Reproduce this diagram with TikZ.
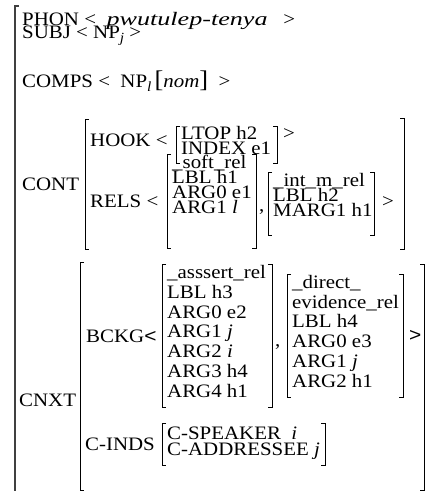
\documentclass[tikz,border=0pt]{standalone}
\usepackage{fontspec}
\setmainfont[FakeStretch=1.1]{Liberation Serif}
\setsansfont[FakeStretch=1.1]{Liberation Sans}
\newcommand{\tk}{4}
\newcommand{\lbrk}[3]{\draw[brk] (#1+\tk,#2) -- (#1,#2) -- (#1,#3) -- (#1+\tk,#3);}
\newcommand{\rbrk}[3]{\draw[brk] (#1-\tk,#2) -- (#1,#2) -- (#1,#3) -- (#1-\tk,#3);}
\newcommand{\lowsub}[1]{\raisebox{-4.5pt}{\fontsize{14}{14}\selectfont\textit{#1}}}
\newcommand{\tallbr}[1]{{\fontsize{24}{24}\selectfont #1}}

\begin{document}
\begin{tikzpicture}[x=1pt,y=-1pt,
    txt/.style={anchor=base west, inner sep=0pt, font=\fontsize{19}{19}\selectfont},
    brk/.style={line width=0.7pt},
    outer/.style={line width=1.3pt, black!75}]

	\useasboundingbox (0,0) rectangle (427,491);

	% outer matrix
	\draw[outer] (19,6) -- (15,6) -- (15,491);

	% phon, subj, comps
	\node[txt] (phon) at (22,25) {PHON <\ \ \scalebox{1.25}[1]{\textit{pwutulep-tenya}}\ \ \ >};
	\node[txt] (subj) at (22,38) {SUBJ < NP\lowsub{j}\ >};
	\node[txt] (comps) at (22,87) {COMPS <\ \ NP\lowsub{l}\,\tallbr{[}\textit{nom}\tallbr{]}\ \ >};

	% cont
	\node[txt] (cont) at (22,190) {CONT};
	\lbrk{85}{119}{249}
	\rbrk{404}{118}{249}

	% hook
	\node[txt] (hook) at (90,146) {HOOK <};
	\lbrk{176}{126}{163}
	\node[txt] (ltop) at (181,139) {LTOP h2};
	\node[txt] (index) at (181,154) {INDEX e1};
	\rbrk{277}{126}{163}
	\node[txt] (hookend) at (283,139) {>};

	% rels
	\node[txt] (rels) at (90,207) {RELS <};
	\lbrk{167}{154}{248}
	\node[txt] (softa) at (172,168) {\_soft\_rel};
	\node[txt] (softb) at (172,183) {LBL h1};
	\node[txt] (softc) at (172,198) {ARG0 e1};
	\node[txt] (softd) at (172,213) {ARG1 \textit{l}};
	\rbrk{256}{154}{248}
	\node[txt] (relsc) at (259,211) {,};
	\lbrk{268}{172}{235}
	\node[txt] (inta) at (273,186) {\_int\_m\_rel};
	\node[txt] (intb) at (273,201) {LBL h2};
	\node[txt] (intc) at (273,216) {MARG1 h1};
	\rbrk{374}{172}{235}
	\node[txt] (relsend) at (382,207) {>};

	% cnxt
	\node[txt] (cnxt) at (19,406) {CNXT};
	\lbrk{80}{262}{490}
	\rbrk{424}{264}{490}

	% bckg
	\node[txt] (bckg) at (86,342) {BCKG{\sffamily <}};
	\lbrk{162}{264}{407}
	\node[txt] (asra) at (167,278) {\_asssert\_rel};
	\node[txt] (asrb) at (167,298) {LBL h3};
	\node[txt] (asrc) at (167,318) {ARG0 e2};
	\node[txt] (asrd) at (167,337) {ARG1 \textit{j}};
	\node[txt] (asre) at (167,357) {ARG2 \textit{i}};
	\node[txt] (asrf) at (167,377) {ARG3 h4};
	\node[txt] (asrg) at (167,397) {ARG4 h1};
	\rbrk{272}{264}{407}
	\node[txt] (bckgc) at (275,346) {,};
	\lbrk{287}{274}{397}
	\node[txt] (evda) at (292,288) {\_direct\_};
	\node[txt] (evdb) at (292,308) {evidence\_rel};
	\node[txt] (evdc) at (292,327) {LBL h4};
	\node[txt] (evdd) at (292,347) {ARG0 e3};
	\node[txt] (evde) at (292,367) {ARG1 \textit{j}};
	\node[txt] (evdf) at (292,387) {ARG2 h1};
	\rbrk{403}{274}{397}
	\node[txt] (bckgend) at (409,341) {\sffamily >};

	% c-inds
	\node[txt] (cinds) at (85,450) {C-INDS};
	\lbrk{162}{423}{465}
	\node[txt] (spkr) at (167,439) {C-SPEAKER\ \ \textit{i}};
	\node[txt] (adrs) at (167,455) {C-ADDRESSEE \textit{j}};
	\rbrk{325}{423}{465}

\end{tikzpicture}
\end{document}
